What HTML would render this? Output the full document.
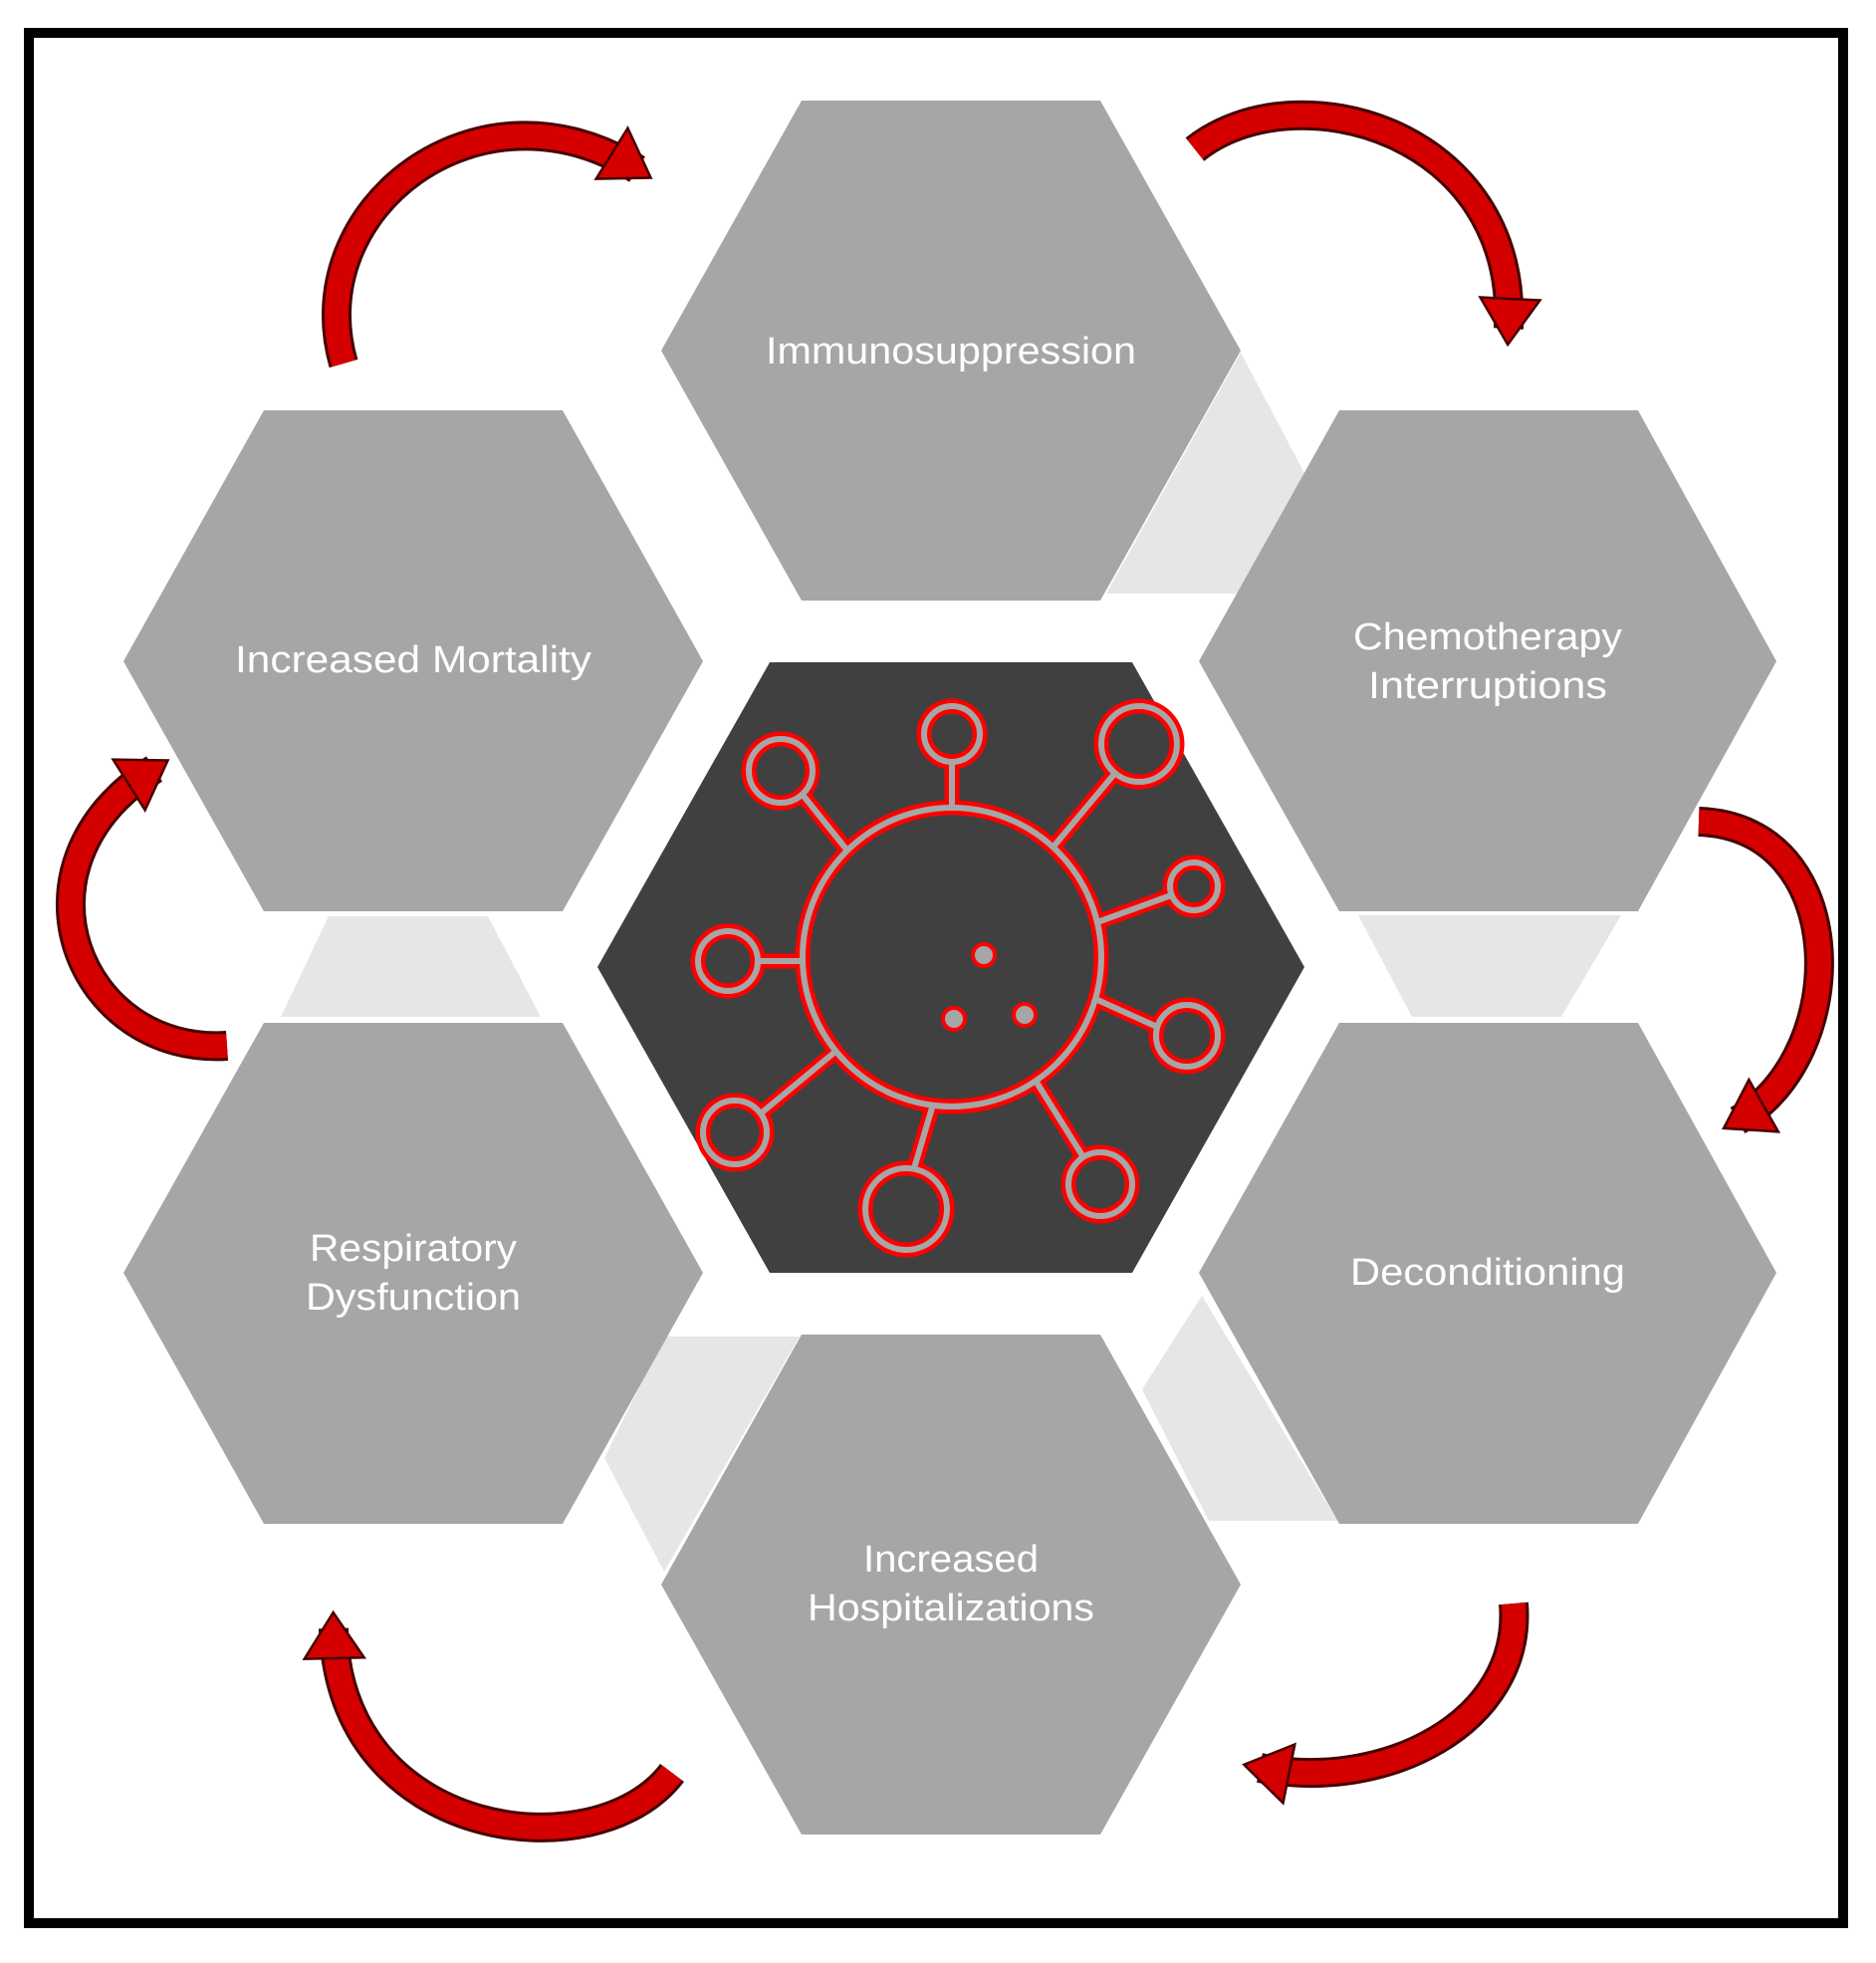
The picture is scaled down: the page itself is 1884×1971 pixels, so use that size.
<!DOCTYPE html>
<html><head><meta charset="utf-8"><style>html,body{margin:0;padding:0;background:#fff}svg{display:block}</style></head>
<body>
<svg width="1884" height="1971" viewBox="0 0 1884 1971" xmlns="http://www.w3.org/2000/svg">
<defs>
<marker id="ah" markerUnits="userSpaceOnUse" markerWidth="70" markerHeight="70" viewBox="-5 -35 60 70" refX="30" refY="0" orient="auto">
<polygon points="0,-30 46,0 0,30" fill="#d40000" stroke="#400" stroke-width="2.5"/>
</marker>
</defs>
<rect x="0" y="0" width="1884" height="1971" fill="#fff"/>
<rect x="29" y="33" width="1822" height="1898" fill="none" stroke="#000" stroke-width="10"/>
<g fill="#e6e6e6">
<polygon points="1246,354 1310,475 1244,596 1111,596"/>
<polygon points="1364,919 1628,919 1568,1021 1418,1021"/>
<polygon points="1207,1301 1343,1527 1214,1527 1147,1395"/>
<polygon points="667,1342 803,1342 667,1578 607,1464"/>
<polygon points="282,1021 330,920 490,920 543,1021"/>
</g>
<g fill="#a6a6a6">
<polygon points="664,352 805,101 1105,101 1246,352 1105,603 805,603"/>
<polygon points="124,664 265,412 565,412 706,664 565,915 265,915"/>
<polygon points="1204,664 1345,412 1645,412 1784,664 1645,915 1345,915"/>
<polygon points="124,1278 265,1027 565,1027 706,1278 565,1530 265,1530"/>
<polygon points="1204,1278 1345,1027 1645,1027 1784,1278 1645,1530 1345,1530"/>
<polygon points="664,1591 805,1340 1105,1340 1246,1591 1105,1842 805,1842"/>
</g>
<polygon points="600,971 773,665 1137,665 1310,971 1137,1278 773,1278" fill="#404040"/>
<g font-family="Liberation Sans, sans-serif" font-size="38" fill="#fff" text-anchor="middle">
<text x="955" y="365" textLength="372" lengthAdjust="spacingAndGlyphs">Immunosuppression</text>
<text x="415" y="675" textLength="358" lengthAdjust="spacingAndGlyphs">Increased Mortality</text>
<text x="1494" y="652" textLength="270" lengthAdjust="spacingAndGlyphs">Chemotherapy</text>
<text x="1494" y="701" textLength="240" lengthAdjust="spacingAndGlyphs">Interruptions</text>
<text x="1494" y="1290" textLength="276" lengthAdjust="spacingAndGlyphs">Deconditioning</text>
<text x="415" y="1266" textLength="208" lengthAdjust="spacingAndGlyphs">Respiratory</text>
<text x="415" y="1315" textLength="216" lengthAdjust="spacingAndGlyphs">Dysfunction</text>
<text x="955" y="1578" textLength="176" lengthAdjust="spacingAndGlyphs">Increased</text>
<text x="955" y="1627" textLength="288" lengthAdjust="spacingAndGlyphs">Hospitalizations</text>
</g>
<g fill="none">
<g stroke="#ff0000" stroke-width="15">
<circle cx="956" cy="961" r="150"/>
<line x1="851" y1="854" x2="806" y2="798"/>
<line x1="956" y1="811" x2="956" y2="765"/>
<line x1="1058" y1="850" x2="1120" y2="776"/>
<line x1="1102" y1="926" x2="1176" y2="899"/>
<line x1="806" y1="965" x2="761" y2="965"/>
<line x1="1100" y1="1003" x2="1162" y2="1031"/>
<line x1="840" y1="1055" x2="764" y2="1118"/>
<line x1="937" y1="1109" x2="918" y2="1173"/>
<line x1="1040" y1="1085" x2="1088" y2="1162"/>
<circle cx="784" cy="774" r="32"/><circle cx="956" cy="737" r="28"/><circle cx="1144" cy="747" r="38"/>
<circle cx="1199" cy="890" r="24"/><circle cx="731" cy="965" r="30"/><circle cx="1192" cy="1040" r="31"/>
<circle cx="738" cy="1137" r="32"/><circle cx="910" cy="1214" r="41"/><circle cx="1105" cy="1189" r="32"/>
</g>
<g stroke="#a6a6a6" stroke-width="6">
<circle cx="956" cy="961" r="150"/>
<line x1="851" y1="854" x2="806" y2="798"/>
<line x1="956" y1="811" x2="956" y2="765"/>
<line x1="1058" y1="850" x2="1120" y2="776"/>
<line x1="1102" y1="926" x2="1176" y2="899"/>
<line x1="806" y1="965" x2="761" y2="965"/>
<line x1="1100" y1="1003" x2="1162" y2="1031"/>
<line x1="840" y1="1055" x2="764" y2="1118"/>
<line x1="937" y1="1109" x2="918" y2="1173"/>
<line x1="1040" y1="1085" x2="1088" y2="1162"/>
<circle cx="784" cy="774" r="32"/><circle cx="956" cy="737" r="28"/><circle cx="1144" cy="747" r="38"/>
<circle cx="1199" cy="890" r="24"/><circle cx="731" cy="965" r="30"/><circle cx="1192" cy="1040" r="31"/>
<circle cx="738" cy="1137" r="32"/><circle cx="910" cy="1214" r="41"/><circle cx="1105" cy="1189" r="32"/>
</g>
<g fill="#a6a6a6" stroke="#ff0000" stroke-width="4">
<circle cx="988" cy="959" r="11"/><circle cx="958" cy="1023" r="11"/><circle cx="1029" cy="1019" r="11"/>
</g>
</g>
<g fill="none" stroke-linecap="butt">
<g stroke="#400" stroke-width="30">
<path d="M345,365 C300,210 480,70 640,170"/>
<path d="M1200,150 C1300,70 1525,130 1515,330"/>
<path d="M1706,825 C1860,830 1860,1060 1745,1125"/>
<path d="M1520,1610 C1530,1730 1390,1800 1265,1775"/>
<path d="M675,1780 C600,1880 340,1850 335,1635"/>
<path d="M228,1050 C80,1060 0,870 155,772"/>
</g>
<g stroke="#d40000" stroke-width="24" marker-end="url(#ah)">
<path d="M345,365 C300,210 480,70 640,170"/>
<path d="M1200,150 C1300,70 1525,130 1515,330"/>
<path d="M1706,825 C1860,830 1860,1060 1745,1125"/>
<path d="M1520,1610 C1530,1730 1390,1800 1265,1775"/>
<path d="M675,1780 C600,1880 340,1850 335,1635"/>
<path d="M228,1050 C80,1060 0,870 155,772"/>
</g>
</g>
</svg>
</body></html>
